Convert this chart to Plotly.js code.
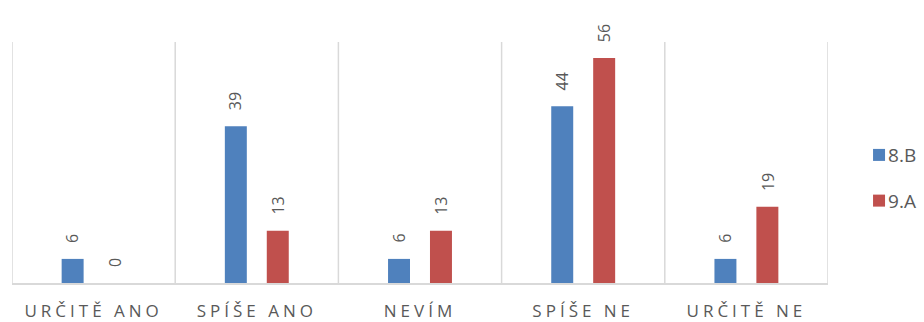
<!DOCTYPE html>
<html>
<head>
<meta charset="utf-8">
<script src="https://cdn.plot.ly/plotly-3.0.1.min.js"></script>
<style>
html,body{margin:0;padding:0;background:#fff;}
#chart{width:924px;height:322px;}
.xtick text{letter-spacing:4px;}
.legendtext{transform:translateX(-11px);}
</style>
</head>
<body>
<div id="chart"></div>
<script>
const categories = ["URČITĚ ANO", "SPÍŠE ANO", "NEVÍM", "SPÍŠE NE", "URČITĚ NE"];
const seriesNames = ["8.B", "9.A"];
const values8B = [6, 39, 6, 44, 6];
const values9A = [0, 13, 13, 56, 19];
const colors = ["#4f81bd", "#c0504d"];

const FONT = "'Open Sans', Lato, sans-serif";
const GRAY = "#595959";

const traces = [values8B, values9A].map((vals, i) => ({
  type: "bar",
  name: seriesNames[i],
  x: categories,
  y: vals,
  marker: {color: colors[i]},
  legendgroup: "g" + i,
  hoverinfo: "x+y+name"
}));

const annotations = [];
[values8B, values9A].forEach((vals, i) => {
  vals.forEach((v, j) => {
    annotations.push({
      x: categories[j], y: v, xref: "x", yref: "y",
      text: String(v), showarrow: false,
      textangle: -90, yanchor: "bottom", xanchor: "center",
      xshift: i === 0 ? -21 : 21, yshift: 14,
      font: {family: FONT, size: 16, color: GRAY}
    });
  });
});

const shapes = [];
for (let k = 0; k <= categories.length; k++) {
  shapes.push({
    type: "line", xref: "x", yref: "paper",
    x0: k - 0.5, x1: k - 0.5, y0: 0, y1: 1,
    line: {color: "#d9d9d9", width: 1.5}, layer: "below"
  });
}

const layout = {
  width: 924, height: 322,
  margin: {l: 12, r: 96, t: 42, b: 39, pad: 0, autoexpand: false},
  paper_bgcolor: "#ffffff", plot_bgcolor: "#ffffff",
  barmode: "group", bargap: 0.486, bargroupgap: 0.476,
  showlegend: true,
  legend: {
    xref: "container", yref: "container",
    x: 0.9297, xanchor: "left", y: 0.447, yanchor: "middle",
    font: {family: FONT, size: 19, color: GRAY},
    tracegroupgap: 18, itemwidth: 30
  },
  xaxis: {
    type: "category", range: [-0.5, 4.5], automargin: false,
    showline: true, linecolor: "#d9d9d9", linewidth: 1.5,
    showgrid: false, zeroline: false, ticks: "",
    tickfont: {family: FONT, size: 17, color: GRAY},
    ticklabelstandoff: 12, fixedrange: true
  },
  yaxis: {
    range: [0, 60], visible: false, showgrid: false, zeroline: false,
    fixedrange: true
  },
  annotations: annotations,
  shapes: shapes,
  font: {family: FONT, color: GRAY}
};

Plotly.newPlot("chart", traces, layout, {displayModeBar: false, staticPlot: true});
</script>
</body>
</html>
